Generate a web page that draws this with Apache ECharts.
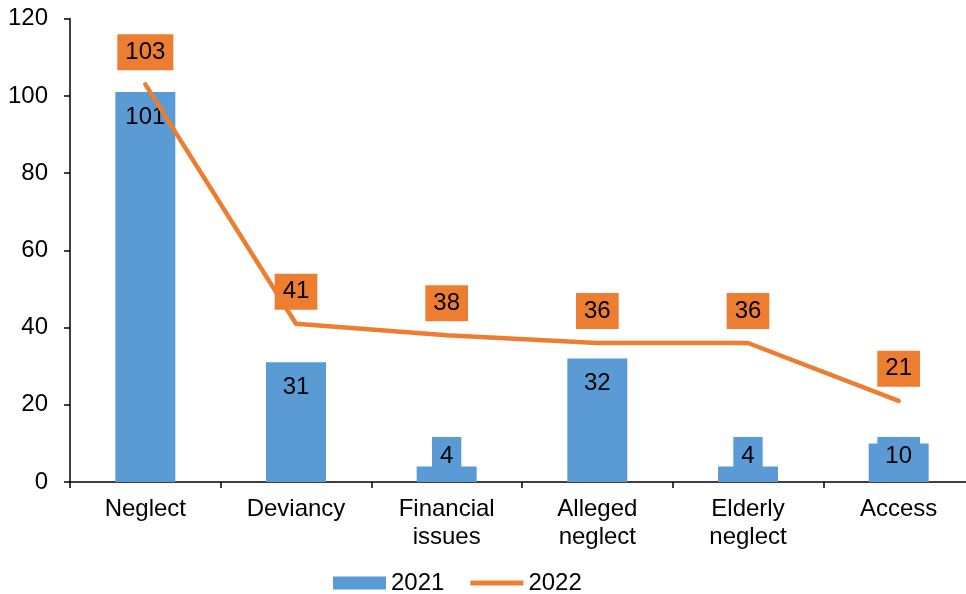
<html>
<head>
  <meta http-equiv="Content-Type" content="text/html; charset=UTF-8">
  <script src="https://cdn.jsdelivr.net/npm/echarts@6/dist/echarts.min.js"></script>
  <style>
    body { margin: 0; background: #fff; }
  </style>
</head>
<body>
  <div id="div_chart" style="width: 966px; height: 594px;"></div>
  <script>
    var categories = ['Neglect', 'Deviancy', 'Financial\nissues', 'Alleged\nneglect', 'Elderly\nneglect', 'Access'];
    var values2021 = [101, 31, 4, 32, 4, 10];
    var values2022 = [103, 41, 38, 36, 36, 21];
    var yTicks = { min: 0, max: 120, interval: 20 };

    var FONT = 'Liberation Sans, Arial, sans-serif';
    var BLUE = '#5B9BD5';
    var ORANGE = '#ED7D31';

    // short bars: label sits at the bottom, like excel clamps it
    var barData = values2021.map(function (v) {
      var tall = v > 20;
      return {
        value: v,
        label: tall ? { position: 'insideTop', distance: 6 } : { position: 'insideBottom', distance: 7 }
      };
    });

    var myChart = echarts.init(document.getElementById('div_chart'));
    var options = {
      animation: false,
      textStyle: { fontFamily: FONT },
      grid: { left: 70, width: 904, top: 18.7, bottom: 112, outerBoundsMode: 'none', containLabel: false },
      legend: {
        left: 328,
        top: 566,
        itemWidth: 53,
        itemHeight: 13,
        itemGap: 26,
        textStyle: { fontSize: 24, color: '#000', fontFamily: FONT },
        data: [
          { name: '2021', icon: 'rect' },
          { name: '2022', icon: 'path://M0,0 L52,0 L52,5 L0,5 Z' }
        ]
      },
      xAxis: {
        type: 'category',
        data: categories,
        axisLine: { lineStyle: { color: '#000', width: 1.5 } },
        axisTick: { show: true, length: 6, lineStyle: { color: '#000', width: 1.5 } },
        axisLabel: { fontSize: 24, color: '#000', margin: 13, lineHeight: 28, fontFamily: FONT, interval: 0 }
      },
      yAxis: {
        type: 'value',
        min: yTicks.min,
        max: yTicks.max,
        interval: yTicks.interval,
        splitLine: { show: false },
        axisLine: { show: true, lineStyle: { color: '#000', width: 1.5 } },
        axisTick: { show: true, length: 6, lineStyle: { color: '#000', width: 1.5 } },
        axisLabel: { fontSize: 24, color: '#000', margin: 22, fontFamily: FONT }
      },
      series: [
        {
          name: '2021',
          type: 'bar',
          data: barData,
          barWidth: 60,
          itemStyle: { color: BLUE },
          label: {
            show: true,
            fontSize: 24,
            color: '#000',
            fontFamily: FONT,
            lineHeight: 24,
            backgroundColor: BLUE,
            padding: [7, 8]
          }
        },
        {
          name: '2022',
          type: 'line',
          data: values2022,
          symbol: 'circle',
          symbolSize: 0.1,
          showSymbol: true,
          lineStyle: { color: ORANGE, width: 4.5, cap: 'round', join: 'round' },
          itemStyle: { color: ORANGE },
          label: {
            show: true,
            position: 'top',
            distance: 14,
            fontSize: 24,
            color: '#000',
            fontFamily: FONT,
            lineHeight: 24,
            backgroundColor: ORANGE,
            padding: [6, 8]
          },
          z: 3
        }
      ]
    };
    myChart.setOption(options);
  </script>
</body>
</html>
